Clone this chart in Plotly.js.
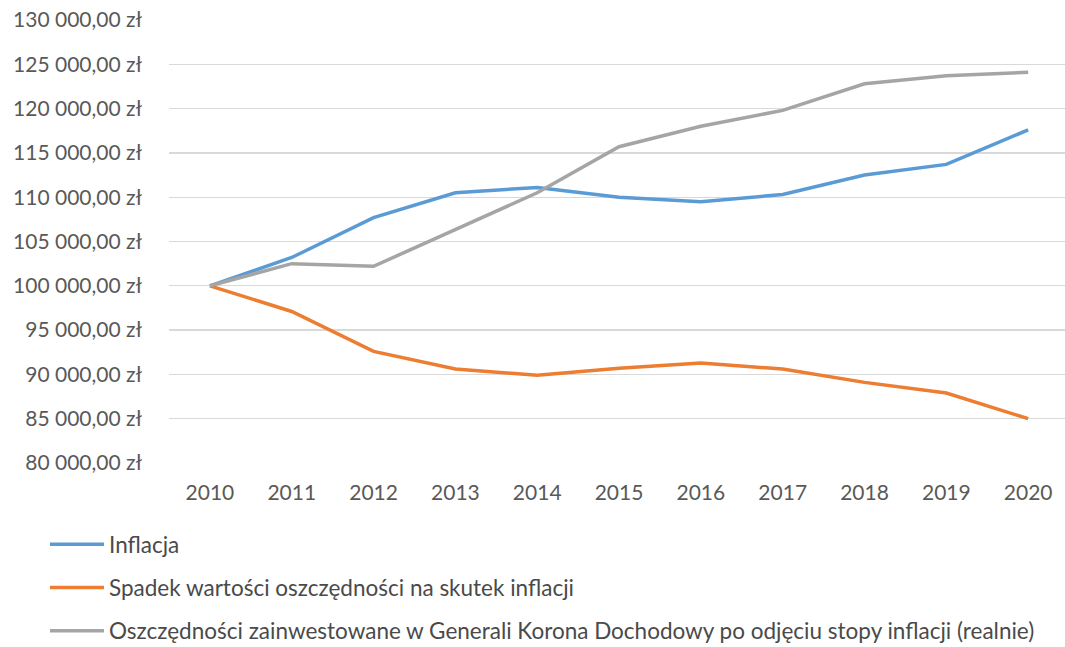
<!DOCTYPE html>
<html>
<head>
<meta charset="utf-8">
<script src="https://cdn.plot.ly/plotly-3.0.1.min.js"></script>
<style>
  html, body { margin: 0; padding: 0; background: #fff; }
  #chart { width: 1065px; height: 647px; }
</style>
</head>
<body>
<div id="chart"></div>
<script>
// Lata
const years = ['2010', '2011', '2012', '2013', '2014', '2015', '2016', '2017', '2018', '2019', '2020'];

// Wartości w zł
const inflacja = [100000, 103200, 107700, 110500, 111100, 110000, 109500, 110300, 112500, 113700, 117600];
const spadekWartosci = [100000, 97100, 92600, 90600, 89900, 90700, 91300, 90600, 89100, 87900, 85000];
const generaliRealnie = [100000, 102500, 102200, 106300, 110500, 115700, 118000, 119800, 122800, 123700, 124100];

const seriesNames = [
  'Inflacja',
  'Spadek wartości oszczędności na skutek inflacji',
  'Oszczędności zainwestowane w Generali Korona Dochodowy po odjęciu stopy inflacji (realnie)'
];

const colors = ['#5B9BD5', '#ED7D31', '#A5A5A5'];
const values = [inflacja, spadekWartosci, generaliRealnie];

const traces = values.map((v, i) => ({
  type: 'scatter',
  mode: 'lines',
  x: years,
  y: v,
  name: seriesNames[i],
  legendgroup: 'g' + i,
  line: { color: colors[i], width: 3.5 },
  hoverinfo: 'x+y'
}));

const layout = {
  width: 1065,
  height: 647,
  paper_bgcolor: '#ffffff',
  plot_bgcolor: '#ffffff',
  font: { family: 'Lato, "Open Sans", sans-serif', color: '#595959', size: 21 },
  margin: { l: 169, r: 0, t: 20, b: 184 },
  separators: ', ',
  showlegend: true,
  legend: {
    orientation: 'v',
    xref: 'paper', yref: 'container',
    x: (45 - 169) / 896, xanchor: 'left',
    y: (647 - 523) / 647, yanchor: 'top',
    font: { size: 22.5, color: '#4a4a4a' },
    itemwidth: 54,
    tracegroupgap: 11,
    bgcolor: 'rgba(0,0,0,0)'
  },
  xaxis: {
    type: 'category',
    range: [-0.5, 10.45],
    showgrid: false,
    zeroline: false,
    showline: false,
    ticks: '',
    ticklabelstandoff: 15,
    tickfont: { size: 21, color: '#595959' },
    fixedrange: true
  },
  yaxis: {
    range: [80000, 130000],
    dtick: 5000,
    tick0: 80000,
    tickformat: ',.2f',
    ticksuffix: ' zł',
    showgrid: true,
    gridcolor: '#D9D9D9',
    gridwidth: 1.3,
    zeroline: false,
    showline: false,
    ticks: '',
    ticklabelstandoff: 26,
    tickfont: { size: 21, color: '#595959' },
    fixedrange: true
  }
};

Plotly.newPlot('chart', traces, layout, { displayModeBar: false, staticPlot: true });
</script>
</body>
</html>
